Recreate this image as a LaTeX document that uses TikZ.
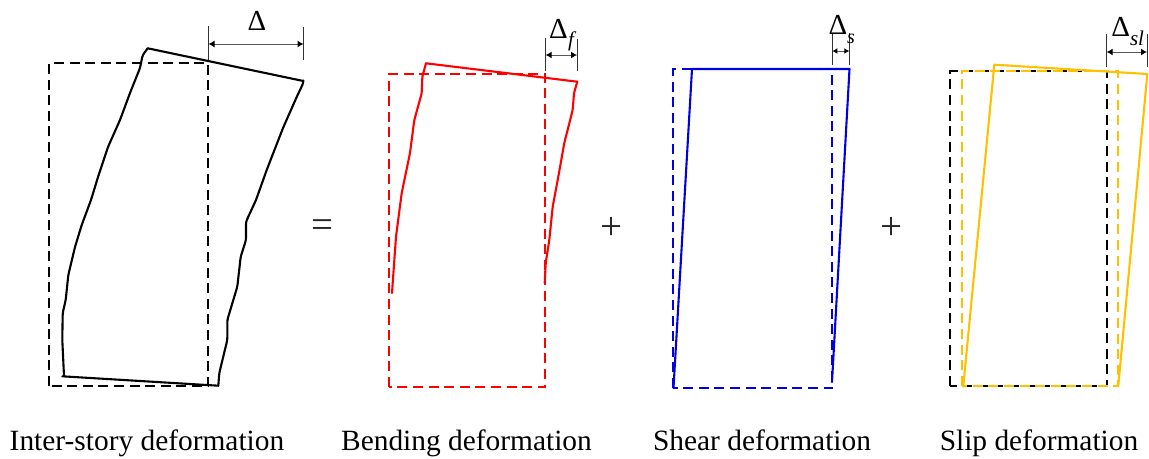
\documentclass[tikz,border=0pt]{standalone}
\usepackage{fontspec}
\setmainfont{Liberation Serif}
\usetikzlibrary{arrows.meta}
\tikzset{
  solidline/.style={line width=2.1pt,line join=round,line cap=round,rounded corners=2.5pt},
  dashline/.style={line width=2.3pt,dash pattern=on 10pt off 5.6pt,line join=miter},
  tick/.style={line width=1pt,black!80},
  dim/.style={line width=1pt,black!65,{Latex[length=6pt,width=7pt,black]}-{Latex[length=6pt,width=7pt,black]}},
  caption/.style={anchor=base,inner sep=0pt,font=\fontsize{29.4}{32}\selectfont},
  sign/.style={inner sep=0pt,font=\fontsize{39}{42}\selectfont,black!85},
  delta/.style={anchor=base,inner sep=0pt,font=\fontsize{29}{32}\selectfont},
  sub/.style={anchor=base,inner sep=0pt,font=\fontsize{21}{24}\selectfont\itshape}
}
\definecolor{myyellow}{RGB}{255,192,0}
\definecolor{myblue}{RGB}{0,0,225}
\begin{document}
\begin{tikzpicture}[x=1pt,y=-1pt]
\useasboundingbox (0,0) rectangle (1149,458);
% Inter-story
\draw[dashline] (49.3,386) -- (49.3,63) -- (208.2,63) -- (208.2,386) -- cycle;
\draw[solidline] (147.7,48.3) -- (303.3,81);
\draw[solidline] (303.3,81) -- (303.3,83) -- (296.7,97) -- (283,128) -- (266.7,170) -- (256,200) -- (246,221.7) -- (246,240) -- (240.7,256.7) -- (237.3,286.7) -- (227.3,320) -- (227.3,340) -- (219.3,373) -- (218.3,385.7);
\draw[solidline] (218.3,385.7) -- (62.3,376.3);
\draw[solidline] (64,376) -- (62.3,340) -- (62.7,313) -- (65.7,300) -- (68.3,275) -- (75,247) -- (81.7,225) -- (91,200) -- (98,177) -- (108,147) -- (120,120) -- (130,93) -- (140,68) -- (142.7,55) -- (147.7,48.3);
\coordinate (a1) at (208.5,26); \coordinate (a2) at (208.5,60);
\coordinate (b1) at (303.5,27); \coordinate (b2) at (303.5,60);
\coordinate (am) at (208.5,44); \coordinate (bm) at (303.5,44);
\draw[tick] (a1) -- (a2); \draw[tick] (b1) -- (b2);
\draw[dim] (am) -- (bm);
\node[delta] (d1) at (257,30) {Δ};
% Bending
\draw[dashline,red] (389.3,387) -- (389.3,73.7) -- (545.2,73.7) -- (545.2,387) -- cycle;
\draw[solidline,red] (392,293) -- (396,236.7) -- (401.7,193) -- (410,153) -- (414.3,120) -- (421.7,93.3) -- (422.3,76.7) -- (426,63.3);
\draw[solidline,red] (426,63.3) -- (577.3,81.7);
\draw[solidline,red] (577.3,81.7) -- (574,93) -- (572.7,110) -- (564.3,143) -- (558.3,176.7) -- (552.7,206.7) -- (549.3,240) -- (545.7,263) -- (544.7,283);
\coordinate (c1) at (545.7,38); \coordinate (c2) at (545.7,71);
\coordinate (e1) at (577,39); \coordinate (e2) at (577,71);
\coordinate (cm) at (545.7,55); \coordinate (em) at (577,55);
\draw[tick] (c1) -- (c2); \draw[tick] (e1) -- (e2);
\draw[dim] (cm) -- (em);
\node[delta] (d2) at (558.5,38.5) {Δ};
\node[sub] (d2s) at (571,46) {f};
% Shear
\draw[dashline,myblue] (673.2,388) -- (673.2,69) -- (832.2,69) -- (832.2,388) -- cycle;
\draw[solidline,myblue,rounded corners=0pt] (673.5,388) -- (692,69) -- (849.5,69) -- (832,382);
\coordinate (f1) at (832.3,33); \coordinate (f2) at (832.3,65);
\coordinate (g1) at (849.3,33); \coordinate (g2) at (849.3,65);
\coordinate (fm) at (832.3,51); \coordinate (gm) at (849.3,51);
\draw[tick] (f1) -- (f2); \draw[tick] (g1) -- (g2);
\draw[dim,{Latex[length=5pt,width=6pt,black]}-{Latex[length=5pt,width=6pt,black]}] (fm) -- (gm);
\node[delta] (d3) at (838,34) {Δ};
\node[sub,font=\fontsize{20}{22}\selectfont\itshape] (d3s) at (851,43) {s};
% Slip
\draw[dashline,black] (950.3,385.7) -- (950.3,71) -- (1106.7,71) -- (1106.7,385.7) -- cycle;
\draw[dashline,myyellow] (961.7,385.7) -- (961.7,71) -- (1117.7,71) -- (1117.7,385.7) -- cycle;
\draw[solidline,myyellow,rounded corners=0pt] (963.3,386) -- (994.3,64.7) -- (1147.3,74) -- (1118.3,386);
\coordinate (h1) at (1106.7,34); \coordinate (h2) at (1106.7,67);
\coordinate (i1) at (1147,34); \coordinate (i2) at (1147,67);
\coordinate (hm) at (1106.7,52); \coordinate (im) at (1147,52);
\draw[tick] (h1) -- (h2); \draw[tick] (i1) -- (i2);
\draw[dim] (hm) -- (im);
\node[delta] (d4) at (1120.7,36) {Δ};
\node[sub] (d4s) at (1137,45) {sl};
% signs
\node[sign] (eq) at (322,229) {=};
\node[sign] (p1) at (611,228) {+};
\node[sign] (p2) at (891,228) {+};
% captions
\node[caption] (t1) at (147,450) {Inter-story deformation};
\node[caption] (t2) at (466.5,450) {Bending deformation};
\node[caption] (t3) at (762,450) {Shear deformation};
\node[caption] (t4) at (1039,450) {Slip deformation};
\end{tikzpicture}
\end{document}
